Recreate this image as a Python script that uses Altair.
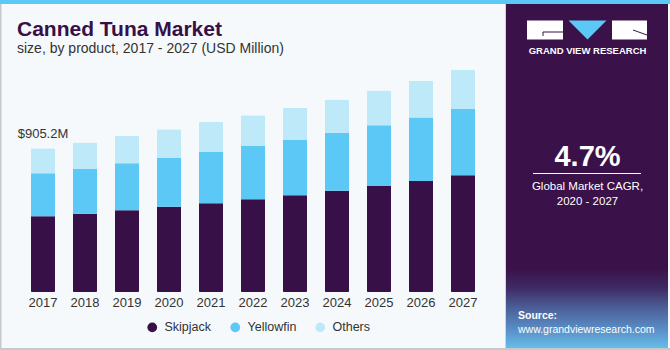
import altair as alt
import pandas as pd

# ---------------- data ----------------
years = ["2017", "2018", "2019", "2020", "2021", "2022", "2023", "2024", "2025", "2026", "2027"]
skipjack = [477.2, 493, 515, 537, 559, 584, 609, 638, 668, 699, 735]
yellowfin = [271, 283, 296, 307, 323, 336, 348, 365, 382, 401, 420]
others = [157, 166, 172, 181, 189, 193, 202, 210, 220, 231, 244]
products = ["Skipjack", "Yellowfin", "Others"]
colors = ["#371047", "#5BC8F5", "#BDE9F9"]
first_label = "$905.2M"

title_text = "Canned Tuna Market"
subtitle_text = "size, by product, 2017 - 2027 (USD Million)"
cagr_text = "4.7%"
cagr_lines = ["Global Market CAGR,", "2020 - 2027"]
brand_text = "GRAND VIEW RESEARCH"
source_lines = ["Source:", "www.grandviewresearch.com"]

FONT = "Liberation Sans"

rows = []
for i, y in enumerate(years):
    for j, (p, vals) in enumerate(zip(products, [skipjack, yellowfin, others])):
        rows.append({"year": y, "product": p, "value": vals[i], "order": j})
df = pd.DataFrame(rows)
totals = pd.DataFrame({"year": years,
                       "total": [a + b + c for a, b, c in zip(skipjack, yellowfin, others)]})
label_df = pd.DataFrame({"year": [years[0]], "total": [totals["total"][0]], "label": [first_label]})
year_df = pd.DataFrame({"year": years})

x_scale = alt.Scale(type="band", domain=years, range=[22, 484],
                    paddingInner=0.4286, paddingOuter=0.2143)
y_scale = alt.Scale(domain=[0, 1839.4], range=[292, 0], nice=False, zero=True)

one = pd.DataFrame({"k": [0]})


def deco():
    return alt.Chart(one)


# ---------------- background decorations ----------------
stripe = deco().mark_rect(color="#5BC8F5").encode(
    x=alt.value(0), x2=alt.value(670), y=alt.value(0), y2=alt.value(4))
left_border = deco().mark_rect(color="#C8C8C8").encode(
    x=alt.value(0), x2=alt.value(1.5), y=alt.value(4), y2=alt.value(350))
bottom_border = deco().mark_rect(color="#C8C8C8").encode(
    x=alt.value(0), x2=alt.value(670), y=alt.value(348), y2=alt.value(350))

panel = deco().mark_rect(color="#3A1149").encode(
    x=alt.value(506), x2=alt.value(668), y=alt.value(4), y2=alt.value(348))
panel_grad = deco().mark_rect(
    color=alt.Gradient(
        gradient="linear",
        stops=[alt.GradientStop(offset=0, color="#3A1149"),
               alt.GradientStop(offset=0.25, color="#3F2A64"),
               alt.GradientStop(offset=0.5, color="#4C5F98"),
               alt.GradientStop(offset=0.78, color="#5A90C8"),
               alt.GradientStop(offset=1, color="#66BCEA")],
        x1=0, x2=0, y1=0, y2=1)
).encode(x=alt.value(506), x2=alt.value(668), y=alt.value(268), y2=alt.value(348))
panel_edge = deco().mark_rule(color="#D0D4DC", strokeWidth=1).encode(
    x=alt.value(505.5), y=alt.value(4), y2=alt.value(348))

# logo
logo_g = deco().mark_rect(color="white").encode(
    x=alt.value(527), x2=alt.value(563), y=alt.value(20.5), y2=alt.value(39.5))
logo_g_line1 = deco().mark_rule(color="#3A1149", strokeWidth=1).encode(
    x=alt.value(543), x2=alt.value(563), y=alt.value(32))
logo_g_line2 = deco().mark_rule(color="#3A1149", strokeWidth=1).encode(
    x=alt.value(543), y=alt.value(32), y2=alt.value(36))
logo_v = deco().mark_point(shape="M-1,-0.5L1,-0.5L0,0.5Z", size=1444, filled=True,
                           color="#5BC8F5", opacity=1).encode(
    x=alt.value(587.5), y=alt.value(30))
logo_r = deco().mark_rect(color="white").encode(
    x=alt.value(612), x2=alt.value(647), y=alt.value(20.5), y2=alt.value(39.5))
logo_r_line = deco().mark_rule(color="#3A1149", strokeWidth=1).encode(
    x=alt.value(633), x2=alt.value(647), y=alt.value(30), y2=alt.value(35))
brand = deco().mark_text(text=brand_text, font=FONT, fontSize=9.5, fontWeight="bold",
                         color="white", align="center", baseline="alphabetic").encode(
    x=alt.value(587.5), y=alt.value(54))

# CAGR block
cagr = deco().mark_text(text=cagr_text, font=FONT, fontSize=29, fontWeight="bold",
                        color="white", align="center", baseline="alphabetic").encode(
    x=alt.value(587.5), y=alt.value(165.7))
cagr_rule = deco().mark_rule(color="white", strokeWidth=1).encode(
    x=alt.value(533), x2=alt.value(641), y=alt.value(173.5))
cagr_l1 = deco().mark_text(text=cagr_lines[0], font=FONT, fontSize=11.5, color="white",
                           align="center", baseline="alphabetic").encode(
    x=alt.value(587.5), y=alt.value(189.5))
cagr_l2 = deco().mark_text(text=cagr_lines[1], font=FONT, fontSize=11.5, color="white",
                           align="center", baseline="alphabetic").encode(
    x=alt.value(587.5), y=alt.value(204.5))
src1 = deco().mark_text(text=source_lines[0], font=FONT, fontSize=10.5, fontWeight="bold",
                        color="white", align="left", baseline="alphabetic").encode(
    x=alt.value(518), y=alt.value(319))
src2 = deco().mark_text(text=source_lines[1], font=FONT, fontSize=10.5, color="white",
                        align="left", baseline="alphabetic").encode(
    x=alt.value(518), y=alt.value(332.5))

# titles
title = deco().mark_text(text=title_text, font=FONT, fontSize=21, fontWeight="bold",
                         color="#371047", align="left", baseline="alphabetic").encode(
    x=alt.value(17), y=alt.value(36))
subtitle = deco().mark_text(text=subtitle_text, font=FONT, fontSize=14, color="#333333",
                            align="left", baseline="alphabetic").encode(
    x=alt.value(17), y=alt.value(52.5))

# ---------------- data marks ----------------
bars = alt.Chart(df).mark_bar(cornerRadius=1).encode(
    x=alt.X("year:N", scale=x_scale, axis=None),
    y=alt.Y("value:Q", stack="zero", scale=y_scale, axis=None),
    color=alt.Color("product:N", scale=alt.Scale(domain=products, range=colors),
                    sort=products,
                    legend=alt.Legend(orient="none", legendX=146, legendY=321,
                                      direction="horizontal", title=None,
                                      symbolType="circle", symbolSize=95,
                                      symbolStrokeWidth=0, labelFontSize=12.5,
                                      labelColor="#333333", labelFont=FONT,
                                      columnPadding=17, labelOffset=6, padding=0)),
    order=alt.Order("order:Q", sort="ascending"),
)

year_labels = alt.Chart(year_df).mark_text(font=FONT, fontSize=13, color="#333333",
                                           align="center", baseline="alphabetic").encode(
    x=alt.X("year:N", scale=x_scale, axis=None),
    y=alt.value(306.5),
    text="year:N",
)

value_label = alt.Chart(label_df).mark_text(font=FONT, fontSize=13, color="#333333",
                                            align="center", baseline="alphabetic",
                                            dy=-10.5).encode(
    x=alt.X("year:N", scale=x_scale, axis=None),
    y=alt.Y("total:Q", scale=y_scale, axis=None),
    text="label:N",
)

chart = alt.layer(
    stripe, left_border, bottom_border, panel, panel_grad, panel_edge,
    logo_g, logo_g_line1, logo_g_line2, logo_v, logo_r, logo_r_line, brand,
    cagr, cagr_rule, cagr_l1, cagr_l2, src1, src2,
    title, subtitle,
    bars, year_labels, value_label,
).properties(
    width=670, height=350,
    autosize=alt.AutoSizeParams(type="none"),
    padding=0,
    background="#F5F9FC",
).configure_view(stroke=None)

chart.save("out.html", embed_options={"renderer": "svg", "actions": False})
